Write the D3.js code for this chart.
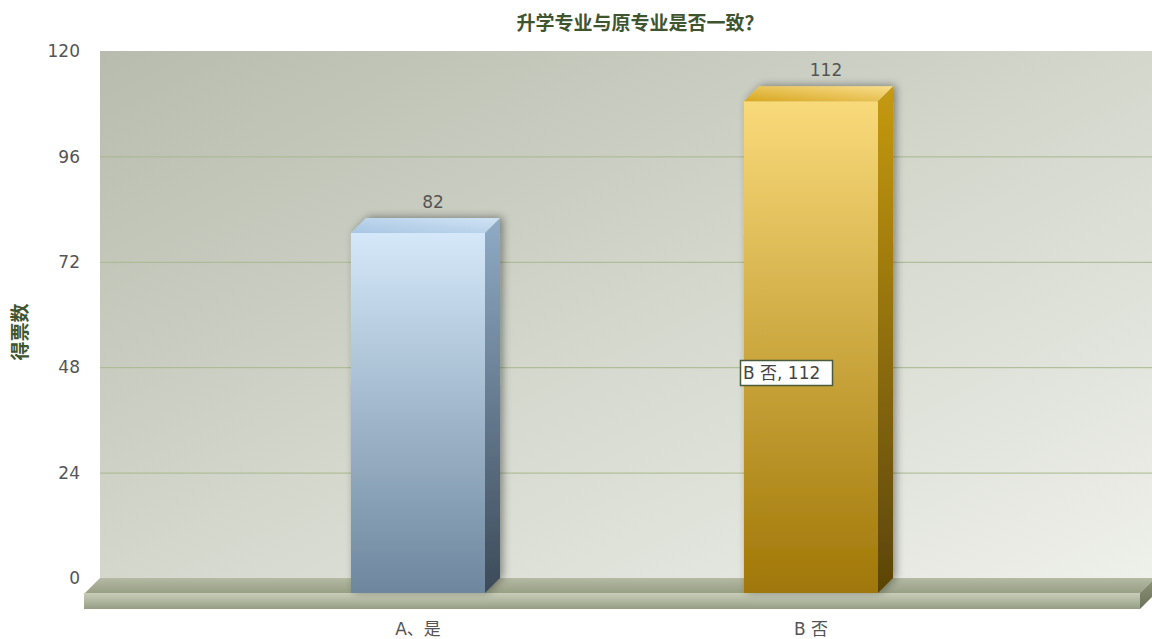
<!DOCTYPE html>
<html><head><meta charset="utf-8">
<script src="https://cdn.jsdelivr.net/npm/d3@7"></script>
<style>body{margin:0;background:#fff;}svg{display:block;}</style>
</head><body>
<script>
const categories = ["A、是", "B 否"];
const values = [82, 112];
const yTicks = [0, 24, 48, 72, 96, 120];
const title = "升学专业与原专业是否一致？";
const yTitle = "得票数";
const tooltipText = "B 否, 112";

const W = 1152, H = 639;
const DX = 15, DY = 15;
const frontLeft = 85, frontRight = 1140;
const svg = d3.select("body").append("svg").attr("width", W).attr("height", H);
const defs = svg.append("defs");

function lg(id, x1, y1, x2, y2, stops) {
  const g = defs.append("linearGradient").attr("id", id)
    .attr("x1", x1).attr("y1", y1).attr("x2", x2).attr("y2", y2);
  stops.forEach(s => g.append("stop").attr("offset", s[0]).attr("stop-color", s[1]));
}
lg("wall", "0", "0", "1", "1", [[0, "#b8bcae"], [0.5, "#d3d7cc"], [1, "#eef0ea"]]);
lg("floorTop", "0", "0", "0", "1", [[0, "#b4baa3"], [1, "#979f84"]]);
lg("floorFront", "0", "0", "0", "1", [[0, "#c8cdb9"], [0.5, "#b0b79f"], [1, "#959d84"]]);
lg("floorSide", "0", "0", "0", "1", [[0, "#8d9478"], [1, "#6b725a"]]);
const barColors = [
  {front: ["#d4e8f9", "#6e879e"], side: ["#8fabc6", "#3c4a58"], top: ["#a8c6e3", "#d0e3f4"]},
  {front: ["#f9da7a", "#a07707"], side: ["#c69a12", "#5a4406"], top: ["#d8a722", "#f9de8c"]}
];
barColors.forEach((c, i) => {
  lg("bf" + i, "0", "0", "0", "1", [[0, c.front[0]], [1, c.front[1]]]);
  lg("bs" + i, "0", "0", "0", "1", [[0, c.side[0]], [1, c.side[1]]]);
  lg("bt" + i, "0", "1", "1", "0", [[0, c.top[0]], [1, c.top[1]]]);
});
const f = defs.append("filter").attr("id", "shadow").attr("x", "-20%").attr("y", "-20%").attr("width", "140%").attr("height", "140%");
f.append("feGaussianBlur").attr("in", "SourceAlpha").attr("stdDeviation", 4);
f.append("feOffset").attr("dx", 3).attr("dy", -1).attr("result", "b");
f.append("feComponentTransfer").append("feFuncA").attr("type", "linear").attr("slope", 0.4);
const fm = f.append("feMerge");
fm.append("feMergeNode");
fm.append("feMergeNode").attr("in", "SourceGraphic");

const y = d3.scaleLinear().domain([0, 120]).range([593, 66]);
const x = d3.scaleBand().domain(categories).range([221.5, 1007.5]).paddingInner(0.659).paddingOuter(0.3295);

// wall
svg.append("rect").attr("x", frontLeft + DX).attr("y", y(120) - DY)
  .attr("width", W - (frontLeft + DX)).attr("height", y(0) - y(120))
  .attr("fill", "url(#wall)");
// gridlines
svg.append("g").selectAll("line").data(yTicks.filter(t => t > 0 && t < 120)).join("line")
  .attr("x1", frontLeft + DX).attr("x2", W)
  .attr("y1", d => y(d) - DY + 0.5).attr("y2", d => y(d) - DY + 0.5)
  .attr("stroke", "#a8b78e").attr("stroke-width", 1);
// y ticks
svg.append("g").selectAll("text").data(yTicks).join("text")
  .attr("x", 80).attr("y", d => y(d) - DY).attr("dy", "0.36em")
  .attr("text-anchor", "end").attr("font-family", "DejaVu Sans, Verdana, sans-serif")
  .attr("font-size", 17).attr("fill", "#555").text(d => d);

// floor
const y0 = y(0);
svg.append("polygon").attr("points", [[frontLeft, y0], [frontLeft + DX, y0 - DY], [frontRight + DX, y0 - DY], [frontRight, y0]].join(" "))
  .attr("fill", "url(#floorTop)");
svg.append("rect").attr("x", frontLeft - 1).attr("y", y0).attr("width", frontRight - frontLeft + 1).attr("height", 16)
  .attr("fill", "url(#floorFront)");
svg.append("polygon").attr("points", [[frontRight, y0], [frontRight + DX, y0 - DY], [frontRight + DX, y0 + 16 - DY], [frontRight, y0 + 16]].join(" "))
  .attr("fill", "url(#floorSide)");

// bars
const bars = svg.append("g").selectAll("g").data(categories.map((c, i) => ({c, v: values[i], i}))).join("g")
  .attr("filter", "url(#shadow)");
bars.append("rect").attr("x", d => x(d.c)).attr("y", d => y(d.v))
  .attr("width", x.bandwidth()).attr("height", d => y0 - y(d.v))
  .attr("fill", d => "url(#bf" + d.i + ")");
bars.append("polygon").attr("points", d => {
  const xr = x(d.c) + x.bandwidth();
  return [[xr, y(d.v)], [xr + DX, y(d.v) - DY], [xr + DX, y0 - DY], [xr, y0]].join(" ");
}).attr("fill", d => "url(#bs" + d.i + ")");
bars.append("polygon").attr("points", d => {
  const xl = x(d.c), xr = xl + x.bandwidth();
  return [[xl, y(d.v)], [xl + DX, y(d.v) - DY], [xr + DX, y(d.v) - DY], [xr, y(d.v)]].join(" ");
}).attr("fill", d => "url(#bt" + d.i + ")");

// value labels
svg.append("g").selectAll("text").data(categories.map((c, i) => ({c, v: values[i]}))).join("text")
  .attr("x", d => x(d.c) + x.bandwidth() / 2 + DX)
  .attr("y", d => y(d.v) - DY - 10)
  .attr("text-anchor", "middle").attr("font-family", "DejaVu Sans, Verdana, sans-serif")
  .attr("font-size", 17).attr("fill", "#555").text(d => d.v);

// x labels
svg.append("g").selectAll("text").data(categories).join("text")
  .attr("x", d => x(d) + x.bandwidth() / 2).attr("y", 635)
  .attr("text-anchor", "middle").attr("font-family", "DejaVu Sans, 'Noto Sans CJK SC', sans-serif")
  .attr("font-size", 17).attr("fill", "#555").text(d => d);

// title
svg.append("text").attr("x", 640).attr("y", 30).attr("text-anchor", "middle")
  .attr("font-family", "'Noto Sans CJK SC', sans-serif").attr("font-weight", "bold")
  .attr("font-size", 19).attr("fill", "#3f5530").text(title);
svg.append("text").attr("transform", "translate(27,332) rotate(-90)").attr("text-anchor", "middle")
  .attr("font-family", "'Noto Sans CJK SC', sans-serif").attr("font-weight", "bold")
  .attr("font-size", 19).attr("fill", "#3f5530").text(yTitle);

// tooltip
const tip = svg.append("g").attr("transform", "translate(740,360)");
tip.append("rect").attr("x", 0.5).attr("y", 0.5).attr("width", 92).attr("height", 25)
  .attr("fill", "#fff").attr("stroke", "#4a5a3a").attr("stroke-width", 1.5);
tip.append("text").attr("x", 3).attr("y", 19).attr("font-family", "DejaVu Sans, 'Noto Sans CJK SC', sans-serif")
  .attr("font-size", 17).attr("fill", "#444").text(tooltipText);
</script>
</body></html>
